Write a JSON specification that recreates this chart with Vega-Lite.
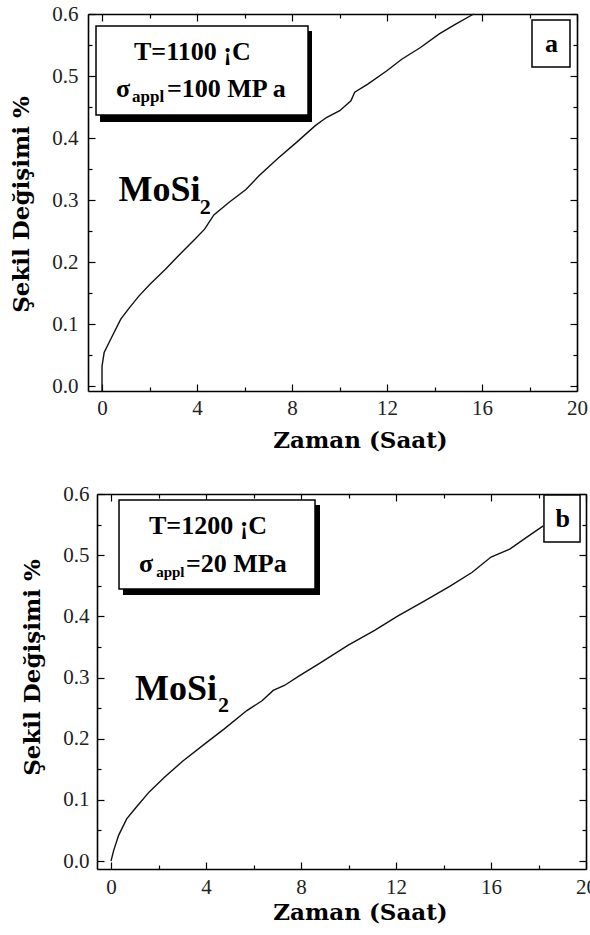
{
  "$schema": "https://vega.github.io/schema/vega-lite/v6.json",
  "padding": {"left": 10, "top": 3, "right": 0, "bottom": 0},
  "spacing": 31,
  "config": {
    "view": {"stroke": null},
    "axis": {
      "grid": false,
      "labelFlush": false,
      "labelOverlap": false,
      "domainColor": "black",
      "domainWidth": 1.6,
      "tickColor": "black",
      "tickWidth": 1.2,
      "labelFont": "Liberation Serif",
      "labelFontSize": 21,
      "labelColor": "#222222",
      "titleFont": "DejaVu Serif",
      "titleFontWeight": "bold",
      "titleFontSize": 23,
      "titleColor": "black"
    }
  },
  "datasets": {
    "curveA": [
      {"t": 0, "e": -0.008}, {"t": 0, "e": 0.032}, {"t": 0.09, "e": 0.054}, {"t": 0.36, "e": 0.075},
      {"t": 0.79, "e": 0.108}, {"t": 1.15, "e": 0.126}, {"t": 1.55, "e": 0.145}, {"t": 2.02, "e": 0.164},
      {"t": 2.66, "e": 0.188}, {"t": 3.29, "e": 0.213}, {"t": 3.92, "e": 0.237}, {"t": 4.32, "e": 0.253},
      {"t": 4.71, "e": 0.276}, {"t": 5.34, "e": 0.296}, {"t": 6.06, "e": 0.317}, {"t": 6.61, "e": 0.339},
      {"t": 7.40, "e": 0.367}, {"t": 8.19, "e": 0.393}, {"t": 8.98, "e": 0.420}, {"t": 9.45, "e": 0.433},
      {"t": 10.01, "e": 0.444}, {"t": 10.48, "e": 0.460}, {"t": 10.64, "e": 0.474}, {"t": 11.19, "e": 0.487},
      {"t": 11.98, "e": 0.508}, {"t": 12.62, "e": 0.527}, {"t": 13.41, "e": 0.546}, {"t": 14.2, "e": 0.568},
      {"t": 14.91, "e": 0.584}, {"t": 15.65, "e": 0.600}
    ],
    "curveB": [
      {"t": 0, "e": 0.0}, {"t": 0.11, "e": 0.017}, {"t": 0.32, "e": 0.042}, {"t": 0.66, "e": 0.069},
      {"t": 1.06, "e": 0.088}, {"t": 1.61, "e": 0.113}, {"t": 2.25, "e": 0.137}, {"t": 3.04, "e": 0.164},
      {"t": 4.03, "e": 0.194}, {"t": 4.77, "e": 0.216}, {"t": 5.72, "e": 0.246}, {"t": 6.36, "e": 0.262},
      {"t": 6.83, "e": 0.279}, {"t": 7.30, "e": 0.287}, {"t": 7.94, "e": 0.303}, {"t": 8.73, "e": 0.322},
      {"t": 9.99, "e": 0.353}, {"t": 11.10, "e": 0.377}, {"t": 12.05, "e": 0.400}, {"t": 13.15, "e": 0.424},
      {"t": 14.26, "e": 0.449}, {"t": 15.21, "e": 0.472}, {"t": 16.0, "e": 0.497}, {"t": 16.79, "e": 0.510},
      {"t": 17.42, "e": 0.527}, {"t": 18.2, "e": 0.548}
    ],
    "boxesA": [
      {"role": "shadow", "x1": -0.084, "x2": 8.842, "y1": 0.5726, "y2": 0.4258},
      {"role": "box", "x1": -0.253, "x2": 8.674, "y1": 0.5806, "y2": 0.437},
      {"role": "label", "x1": 18.105, "x2": 19.705, "y1": 0.5903, "y2": 0.5145}
    ],
    "boxesB": [
      {"role": "shadow", "x1": 0.505, "x2": 8.8, "y1": 0.582, "y2": 0.435},
      {"role": "box", "x1": 0.337, "x2": 8.59, "y1": 0.590, "y2": 0.4447},
      {"role": "label", "x1": 18.23, "x2": 19.75, "y1": 0.5984, "y2": 0.5215}
    ],
    "textA": [
      {"role": "main", "x": 1.347, "y": 0.5258, "label": "T=1100 ¡C"},
      {"role": "main", "x": 0.589, "y": 0.4661, "label": "σ"},
      {"role": "sub", "x": 1.263, "y": 0.458, "label": "appl"},
      {"role": "main", "x": 2.737, "y": 0.4661, "label": "=100 MP a"},
      {"role": "main", "x": 18.65, "y": 0.5387, "label": "a"},
      {"role": "big", "x": 0.69, "y": 0.2989, "label": "MoSi"},
      {"role": "bigsub", "x": 4.12, "y": 0.2774, "label": "2"}
    ],
    "textB": [
      {"role": "main", "x": 1.6, "y": 0.5346, "label": "T=1200 ¡C"},
      {"role": "main", "x": 1.179, "y": 0.4725, "label": "σ"},
      {"role": "sub", "x": 1.9, "y": 0.4643, "label": "appl"},
      {"role": "main", "x": 3.158, "y": 0.4725, "label": "=20 MPa"},
      {"role": "main", "x": 18.72, "y": 0.546, "label": "b"},
      {"role": "big", "x": 1.01, "y": 0.2627, "label": "MoSi"},
      {"role": "bigsub", "x": 4.5, "y": 0.2436, "label": "2"}
    ]
  },
  "vconcat": [
    {
      "width": 489,
      "height": 377,
      "resolve": {"axis": {"x": "independent", "y": "independent"}},
      "layer": [
        {
          "data": {"name": "boxesA"},
          "transform": [{"filter": "datum.role === 'shadow'"}],
          "mark": {"type": "rect", "color": "black"},
          "encoding": {
            "x": {"field": "x1", "type": "quantitative", "scale": {"domain": [-0.59, 20], "nice": false, "zero": false},
                  "axis": {"orient": "top", "offset": -377, "values": [2, 6, 10, 14, 18], "labels": false, "domain": false, "tickSize": 4, "title": null}},
            "x2": {"field": "x2"},
            "y": {"field": "y1", "type": "quantitative", "scale": {"domain": [-0.008, 0.6], "nice": false, "zero": false},
                  "axis": {"orient": "right", "offset": -489, "values": [0.05, 0.15, 0.25, 0.35, 0.45, 0.55], "labels": false, "domain": false, "tickSize": 4, "title": null}},
            "y2": {"field": "y2"}
          }
        },
        {
          "data": {"name": "boxesA"},
          "transform": [{"filter": "datum.role === 'box'"}],
          "mark": {"type": "rect", "fill": "white", "stroke": "black", "strokeWidth": 1.5},
          "encoding": {
            "x": {"field": "x1", "type": "quantitative",
                  "axis": {"orient": "bottom", "offset": -377, "values": [2, 6, 10, 14, 18], "labels": false, "domain": false, "tickSize": 4, "title": null}},
            "x2": {"field": "x2"},
            "y": {"field": "y1", "type": "quantitative",
                  "axis": {"orient": "left", "offset": -489, "values": [0.05, 0.15, 0.25, 0.35, 0.45, 0.55], "labels": false, "domain": false, "tickSize": 4, "title": null}},
            "y2": {"field": "y2"}
          }
        },
        {
          "data": {"name": "boxesA"},
          "transform": [{"filter": "datum.role === 'label'"}],
          "mark": {"type": "rect", "fill": "white", "stroke": "black", "strokeWidth": 1.5},
          "encoding": {
            "x": {"field": "x1", "type": "quantitative",
                  "axis": {"orient": "top", "ticks": false, "labels": false, "domain": true, "title": null}},
            "x2": {"field": "x2"},
            "y": {"field": "y1", "type": "quantitative",
                  "axis": {"orient": "right", "ticks": false, "labels": false, "domain": true, "title": null}},
            "y2": {"field": "y2"}
          }
        },
        {
          "data": {"name": "curveA"},
          "mark": {"type": "line", "color": "#111111", "strokeWidth": 1.4},
          "encoding": {
            "x": {"field": "t", "type": "quantitative",
                  "axis": {"orient": "bottom", "values": [0, 4, 8, 12, 16, 20], "format": "d", "ticks": false, "labelPadding": 6,
                           "title": "Zaman (Saat)", "titleX": 272, "titleY": 56, "titleAlign": "center", "titleBaseline": "alphabetic"}},
            "y": {"field": "e", "type": "quantitative",
                  "axis": {"orient": "left", "values": [0, 0.1, 0.2, 0.3, 0.4, 0.5, 0.6], "format": ".1f", "ticks": false, "labelPadding": 10,
                           "title": "Şekil Değişimi %", "titleX": -60, "titleY": 190, "titleAngle": -90, "titleAlign": "center", "titleBaseline": "alphabetic"}}
          }
        },
        {
          "data": {"name": "textA"},
          "transform": [{"filter": "datum.role === 'main'"}],
          "mark": {"type": "text", "font": "Liberation Serif", "fontWeight": "bold", "fontSize": 26, "align": "left", "baseline": "alphabetic", "color": "black"},
          "encoding": {
            "x": {"field": "x", "type": "quantitative",
                  "axis": {"orient": "top", "offset": -377, "values": [0, 4, 8, 12, 16, 20], "labels": false, "domain": false, "tickSize": 7, "title": null}},
            "y": {"field": "y", "type": "quantitative",
                  "axis": {"orient": "right", "offset": -489, "values": [0, 0.1, 0.2, 0.3, 0.4, 0.5, 0.6], "labels": false, "domain": false, "tickSize": 7, "title": null}},
            "text": {"field": "label"}
          }
        },
        {
          "data": {"name": "textA"},
          "transform": [{"filter": "datum.role === 'sub'"}],
          "mark": {"type": "text", "font": "Liberation Serif", "fontWeight": "bold", "fontSize": 17, "align": "left", "baseline": "alphabetic", "color": "black"},
          "encoding": {
            "x": {"field": "x", "type": "quantitative",
                  "axis": {"orient": "bottom", "offset": -377, "values": [0, 4, 8, 12, 16, 20], "labels": false, "domain": false, "tickSize": 7, "title": null}},
            "y": {"field": "y", "type": "quantitative",
                  "axis": {"orient": "left", "offset": -489, "values": [0, 0.1, 0.2, 0.3, 0.4, 0.5, 0.6], "labels": false, "domain": false, "tickSize": 7, "title": null}},
            "text": {"field": "label"}
          }
        },
        {
          "data": {"name": "textA"},
          "transform": [{"filter": "datum.role === 'big'"}],
          "mark": {"type": "text", "font": "Liberation Serif", "fontWeight": "bold", "fontSize": 36, "align": "left", "baseline": "alphabetic", "color": "black"},
          "encoding": {
            "x": {"field": "x", "type": "quantitative", "axis": null},
            "y": {"field": "y", "type": "quantitative", "axis": null},
            "text": {"field": "label"}
          }
        },
        {
          "data": {"name": "textA"},
          "transform": [{"filter": "datum.role === 'bigsub'"}],
          "mark": {"type": "text", "font": "Liberation Serif", "fontWeight": "bold", "fontSize": 22, "align": "left", "baseline": "alphabetic", "color": "black"},
          "encoding": {
            "x": {"field": "x", "type": "quantitative", "axis": null},
            "y": {"field": "y", "type": "quantitative", "axis": null},
            "text": {"field": "label"}
          }
        }
      ]
    },
    {
      "width": 498,
      "height": 375,
      "resolve": {"axis": {"x": "independent", "y": "independent"}},
      "layer": [
        {
          "data": {"name": "boxesB"},
          "transform": [{"filter": "datum.role === 'shadow'"}],
          "mark": {"type": "rect", "color": "black"},
          "encoding": {
            "x": {"field": "x1", "type": "quantitative", "scale": {"domain": [-0.59, 20], "range": [9, 498], "nice": false, "zero": false},
                  "axis": {"orient": "top", "offset": -375, "values": [2, 6, 10, 14, 18], "labels": false, "domain": false, "tickSize": 4, "title": null}},
            "x2": {"field": "x2"},
            "y": {"field": "y1", "type": "quantitative", "scale": {"domain": [-0.013, 0.6], "nice": false, "zero": false},
                  "axis": {"orient": "right", "offset": -489, "values": [0.05, 0.15, 0.25, 0.35, 0.45, 0.55], "labels": false, "domain": false, "tickSize": 4, "title": null}},
            "y2": {"field": "y2"}
          }
        },
        {
          "data": {"name": "boxesB"},
          "transform": [{"filter": "datum.role === 'box'"}],
          "mark": {"type": "rect", "fill": "white", "stroke": "black", "strokeWidth": 1.5},
          "encoding": {
            "x": {"field": "x1", "type": "quantitative",
                  "axis": {"orient": "bottom", "offset": -375, "values": [2, 6, 10, 14, 18], "labels": false, "domain": false, "tickSize": 4, "title": null}},
            "x2": {"field": "x2"},
            "y": {"field": "y1", "type": "quantitative",
                  "axis": {"orient": "left", "offset": -498, "values": [0.05, 0.15, 0.25, 0.35, 0.45, 0.55], "labels": false, "domain": false, "tickSize": 4, "title": null}},
            "y2": {"field": "y2"}
          }
        },
        {
          "data": {"name": "curveB"},
          "mark": {"type": "line", "color": "#111111", "strokeWidth": 1.4},
          "encoding": {
            "x": {"field": "t", "type": "quantitative",
                  "axis": {"orient": "bottom", "values": [0, 4, 8, 12, 16, 20], "format": "d", "ticks": false, "labelPadding": 7,
                           "title": "Zaman (Saat)", "titleX": 272, "titleY": 50, "titleAlign": "center", "titleBaseline": "alphabetic"}},
            "y": {"field": "e", "type": "quantitative",
                  "axis": {"orient": "left", "offset": -9, "values": [0, 0.1, 0.2, 0.3, 0.4, 0.5, 0.6], "format": ".1f", "ticks": false, "labelPadding": 8,
                           "title": "Şekil Değişimi %", "titleX": -58, "titleY": 173, "titleAngle": -90, "titleAlign": "center", "titleBaseline": "alphabetic"}}
          }
        },
        {
          "data": {"name": "boxesB"},
          "transform": [{"filter": "datum.role === 'label'"}],
          "mark": {"type": "rect", "fill": "white", "stroke": "black", "strokeWidth": 1.5},
          "encoding": {
            "x": {"field": "x1", "type": "quantitative",
                  "axis": {"orient": "top", "ticks": false, "labels": false, "domain": true, "title": null}},
            "x2": {"field": "x2"},
            "y": {"field": "y1", "type": "quantitative",
                  "axis": {"orient": "right", "ticks": false, "labels": false, "domain": true, "title": null}},
            "y2": {"field": "y2"}
          }
        },
        {
          "data": {"name": "textB"},
          "transform": [{"filter": "datum.role === 'main'"}],
          "mark": {"type": "text", "font": "Liberation Serif", "fontWeight": "bold", "fontSize": 26, "align": "left", "baseline": "alphabetic", "color": "black"},
          "encoding": {
            "x": {"field": "x", "type": "quantitative",
                  "axis": {"orient": "top", "offset": -375, "values": [0, 4, 8, 12, 16, 20], "labels": false, "domain": false, "tickSize": 7, "title": null}},
            "y": {"field": "y", "type": "quantitative",
                  "axis": {"orient": "right", "offset": -489, "values": [0, 0.1, 0.2, 0.3, 0.4, 0.5, 0.6], "labels": false, "domain": false, "tickSize": 7, "title": null}},
            "text": {"field": "label"}
          }
        },
        {
          "data": {"name": "textB"},
          "transform": [{"filter": "datum.role === 'sub'"}],
          "mark": {"type": "text", "font": "Liberation Serif", "fontWeight": "bold", "fontSize": 15, "align": "left", "baseline": "alphabetic", "color": "black"},
          "encoding": {
            "x": {"field": "x", "type": "quantitative",
                  "axis": {"orient": "bottom", "offset": -375, "values": [0, 4, 8, 12, 16, 20], "labels": false, "domain": false, "tickSize": 7, "title": null}},
            "y": {"field": "y", "type": "quantitative",
                  "axis": {"orient": "left", "offset": -498, "values": [0, 0.1, 0.2, 0.3, 0.4, 0.5, 0.6], "labels": false, "domain": false, "tickSize": 7, "title": null}},
            "text": {"field": "label"}
          }
        },
        {
          "data": {"name": "textB"},
          "transform": [{"filter": "datum.role === 'big'"}],
          "mark": {"type": "text", "font": "Liberation Serif", "fontWeight": "bold", "fontSize": 36, "align": "left", "baseline": "alphabetic", "color": "black"},
          "encoding": {
            "x": {"field": "x", "type": "quantitative", "axis": null},
            "y": {"field": "y", "type": "quantitative", "axis": null},
            "text": {"field": "label"}
          }
        },
        {
          "data": {"name": "textB"},
          "transform": [{"filter": "datum.role === 'bigsub'"}],
          "mark": {"type": "text", "font": "Liberation Serif", "fontWeight": "bold", "fontSize": 22, "align": "left", "baseline": "alphabetic", "color": "black"},
          "encoding": {
            "x": {"field": "x", "type": "quantitative", "axis": null},
            "y": {"field": "y", "type": "quantitative", "axis": null},
            "text": {"field": "label"}
          }
        }
      ]
    }
  ]
}
